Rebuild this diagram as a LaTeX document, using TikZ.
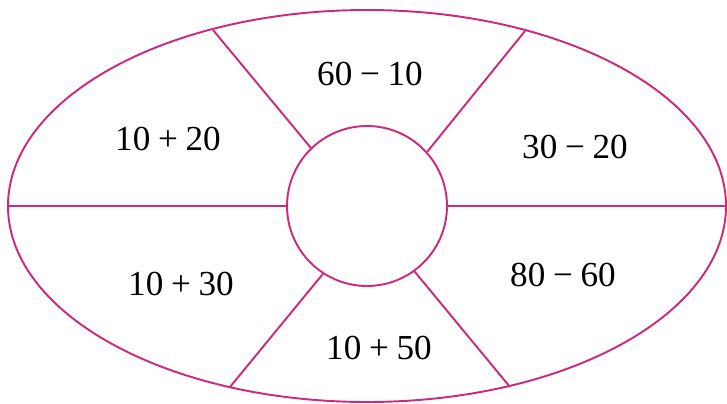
\documentclass[tikz,border=0pt]{standalone}
\usepackage{fontspec}
\setmainfont{Liberation Serif}
\usepackage{xcolor}
\definecolor{RimPink}{HTML}{CC2A7C}
\usetikzlibrary{positioning}

\newcommand{\sumtext}[3]{#1\hspace{0.22em}#2\hspace{0.22em}#3}

\begin{document}
\begin{tikzpicture}[x=0.02cm, y=-0.02cm,
    every node/.style={font=\fontsize{20}{23}\selectfont, align=center},
    rimline/.style={draw=RimPink, line width=1.1pt},
    hub/.style={circle, draw=RimPink, line width=1.1pt, minimum size=3.2cm, inner sep=0pt}]
        \useasboundingbox (0,0) rectangle (727,403);
        \draw[rimline] (367,206) ellipse [x radius=359, y radius=196];
        \node[hub] (hub) at (367,206) {};

        % points on the rim
        \coordinate (rimW) at (8,206);
        \coordinate (rimE) at (726,206);
        \coordinate (rimNW) at (213,30);
        \coordinate (rimNE) at (525,31);
        \coordinate (rimSW) at (230,387);
        \coordinate (rimSE) at (510,387);

        \draw[rimline] (hub.west) -- (rimW);
        \draw[rimline] (hub.east) -- (rimE);
        \draw[rimline] (hub.134) -- (rimNW);
        \draw[rimline] (hub.42) -- (rimNE);
        \draw[rimline] (hub.237) -- (rimSW);
        \draw[rimline] (hub.306) -- (rimSE);

        \node (top) at (370,74) {\sumtext{60}{−}{10}};
        \node (nw) at (168,139) {\sumtext{10}{+}{20}};
        \node (ne) at (575,147) {\sumtext{30}{−}{20}};
        \node (sw) at (181,284) {\sumtext{10}{+}{30}};
        \node (se) at (563,275) {\sumtext{80}{−}{60}};
        \node (bottom) at (379,348) {\sumtext{10}{+}{50}};
    \end{tikzpicture}
\end{document}
